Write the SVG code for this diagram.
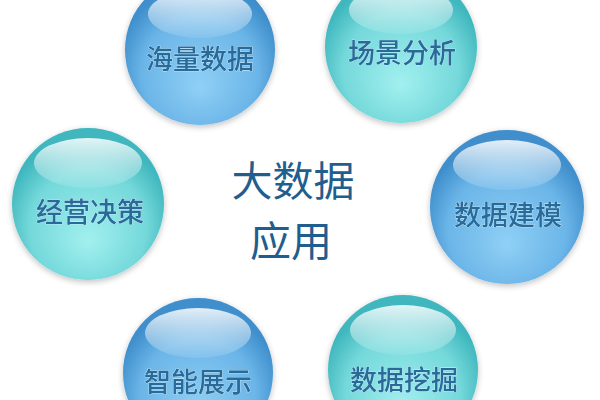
<svg xmlns="http://www.w3.org/2000/svg" width="600" height="400" viewBox="0 0 600 400">
<defs>
<radialGradient id="gBlue" cx="50%" cy="62%" r="55%" fx="50%" fy="75%">
<stop offset="0" stop-color="#8fd0f5"/>
<stop offset="0.7" stop-color="#6bb5e8"/>
<stop offset="1" stop-color="#3f8fcc"/>
</radialGradient>
<radialGradient id="gTeal" cx="50%" cy="62%" r="55%" fx="50%" fy="75%">
<stop offset="0" stop-color="#a2f0ef"/>
<stop offset="0.7" stop-color="#74d8da"/>
<stop offset="1" stop-color="#3fb7be"/>
</radialGradient>
<linearGradient id="gHi" x1="0" y1="0" x2="0" y2="1">
<stop offset="0" stop-color="#ffffff" stop-opacity="0.85"/>
<stop offset="1" stop-color="#ffffff" stop-opacity="0.1"/>
</linearGradient>
<filter id="glow" x="-20%" y="-20%" width="140%" height="140%">
<feGaussianBlur in="SourceAlpha" stdDeviation="3"/>
<feOffset dy="2"/>
<feComponentTransfer><feFuncA type="linear" slope="0.25"/></feComponentTransfer>
<feMerge><feMergeNode/><feMergeNode in="SourceGraphic"/></feMerge>
</filter>
<style>
.lbl{font-family:"Noto Sans CJK SC","Noto Sans",sans-serif;font-size:27px;font-weight:500;fill:#2a6a98;text-anchor:middle;dominant-baseline:central;stroke:#d8f2ff;stroke-width:0.6;paint-order:stroke}
.ctr{font-family:"Noto Sans CJK SC","Noto Sans",sans-serif;font-size:41px;fill:#1f5e8d;text-anchor:middle;dominant-baseline:central}
.hi{fill:url(#gHi)}
</style>
</defs>
<rect width="600" height="400" fill="#ffffff"/>
<g id="connectors"/>
<g id="center">
<text class="ctr" x="293" y="178">大数据</text>
<text class="ctr" x="291" y="238">应用</text>
</g>
<g id="n1" filter="url(#glow)">
<circle cx="200" cy="50" r="75" fill="url(#gBlue)"/>
<ellipse class="hi" cx="200" cy="14" rx="52" ry="24"/>
<text class="lbl" x="200" y="57">海量数据</text>
</g>
<g id="n2" filter="url(#glow)">
<circle cx="401" cy="47" r="76" fill="url(#gTeal)"/>
<ellipse class="hi" cx="401" cy="10" rx="52" ry="24"/>
<text class="lbl" x="402" y="51">场景分析</text>
</g>
<g id="n3" filter="url(#glow)">
<circle cx="88" cy="204" r="76" fill="url(#gTeal)"/>
<ellipse class="hi" cx="88" cy="163" rx="54" ry="25"/>
<text class="lbl" x="90" y="210">经营决策</text>
</g>
<g id="n4" filter="url(#glow)">
<circle cx="507" cy="207" r="77" fill="url(#gBlue)"/>
<ellipse class="hi" cx="507" cy="165" rx="54" ry="25"/>
<text class="lbl" x="508" y="213">数据建模</text>
</g>
<g id="n5" filter="url(#glow)">
<circle cx="198" cy="373" r="75" fill="url(#gBlue)"/>
<ellipse class="hi" cx="198" cy="333" rx="53" ry="25"/>
<text class="lbl" x="198" y="380">智能展示</text>
</g>
<g id="n6" filter="url(#glow)">
<circle cx="403" cy="370" r="75" fill="url(#gTeal)"/>
<ellipse class="hi" cx="403" cy="330" rx="53" ry="25"/>
<text class="lbl" x="404" y="378">数据挖掘</text>
</g>
</svg>
